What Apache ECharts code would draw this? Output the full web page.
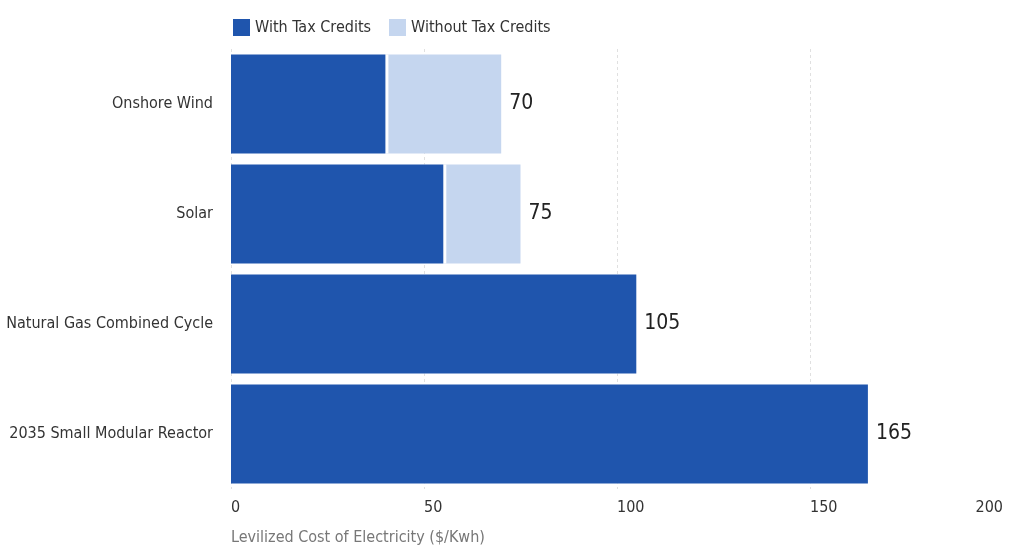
<!DOCTYPE html>
<html>
<head>
<meta charset="utf-8">
<script src="https://cdn.jsdelivr.net/npm/echarts@6/dist/echarts.min.js"></script>
<style>
  html, body { margin: 0; padding: 0; background: #fff; }
  #chart { width: 1019px; height: 548px; }
</style>
</head>
<body>
<div id="chart"></div>
<script>
// data
const categories = ["Onshore Wind", "Solar", "Natural Gas Combined Cycle", "2035 Small Modular Reactor"];
const withCredits = [40, 55, 105, 165];
const withoutExtra = [30, 20, 0, 0];
const totals = [70, 75, 105, 165];
const xTicks = [0, 50, 100, 150, 200];

const FONT = '"Liberation Sans Narrow", "DejaVu Sans Condensed", "Roboto", sans-serif';

const chart = echarts.init(document.getElementById("chart"));

const option = {
  animation: false,
  textStyle: { fontFamily: FONT },
  legend: {
    left: 228,
    top: 14,
    itemWidth: 17,
    itemHeight: 17,
    itemGap: 18,
    icon: "rect",
    textStyle: { fontFamily: FONT, fontSize: 16, color: "#333" },
    data: ["With Tax Credits", "Without Tax Credits"]
  },
  title: {
    text: "Levilized Cost of Electricity ($/Kwh)",
    left: 226,
    top: 525,
    textStyle: { fontFamily: FONT, fontSize: 16, fontWeight: "normal", color: "#777" }
  },
  grid: { left: 231, right: 16, top: 49, bottom: 59, containLabel: false, outerBoundsMode: "none" },
  xAxis: {
    type: "value",
    min: xTicks[0],
    max: xTicks[xTicks.length - 1],
    interval: 50,
    axisLine: { show: false },
    axisTick: { show: false },
    splitLine: { show: true, showMaxLine: false, lineStyle: { color: "#e0e0e0", type: [3, 3] } },
    axisLabel: {
      fontFamily: FONT,
      fontSize: 16,
      color: "#333",
      margin: 11,
      align: "left",
      alignMaxLabel: "right"
    }
  },
  yAxis: {
    type: "category",
    inverse: true,
    data: categories,
    axisLine: { show: false },
    axisTick: { show: false },
    axisLabel: { fontFamily: FONT, fontSize: 16, color: "#333", margin: 18 }
  },
  series: [
    {
      name: "With Tax Credits",
      type: "bar",
      stack: "total",
      z: 3,
      barCategoryGap: "10%",
      // white shadow to the right cuts the small gap into the light segment
      itemStyle: { color: "#1F55AD", shadowColor: "#fff", shadowOffsetX: 3, shadowBlur: 0 },
      data: withCredits
    },
    {
      name: "Without Tax Credits",
      type: "bar",
      stack: "total",
      barCategoryGap: "10%",
      itemStyle: { color: "#C5D6EF" },
      data: withoutExtra,
      label: {
        show: true,
        position: "right",
        distance: 8,
        fontFamily: FONT,
        fontSize: 21,
        color: "#222",
        formatter: p => totals[p.dataIndex]
      }
    }
  ]
};

chart.setOption(option);
</script>
</body>
</html>
